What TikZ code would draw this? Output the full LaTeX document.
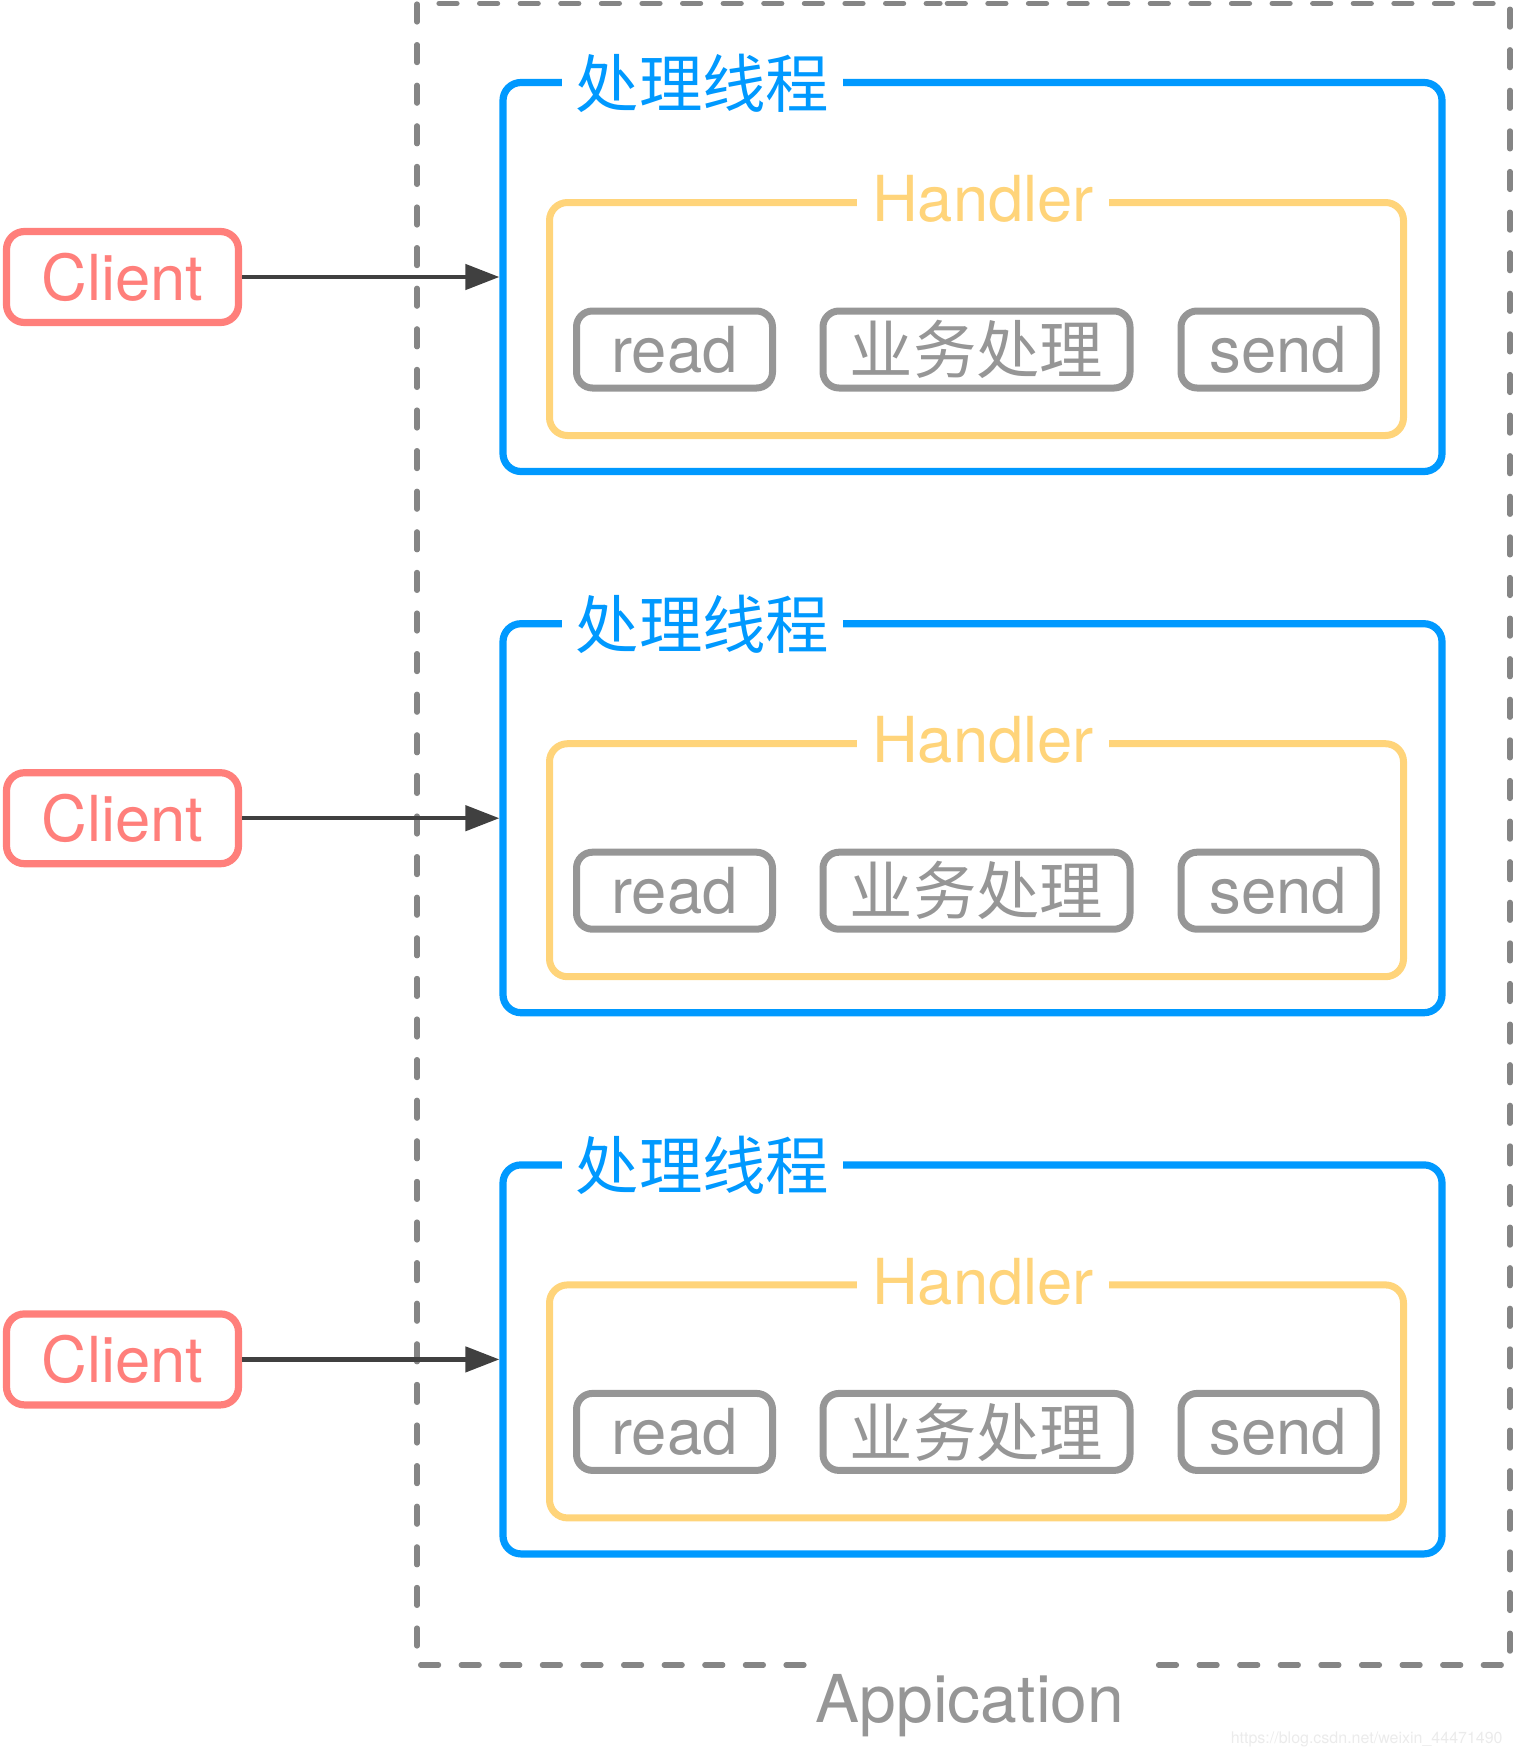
\documentclass[tikz,border=0pt]{standalone}
\usepackage{fontspec}
\setmainfont{TeX Gyre Heros}
\newfontfamily\cjk{Noto Sans CJK SC}
\usepackage{tikz}
\usetikzlibrary{arrows.meta,positioning,calc}
\definecolor{threadblue}{HTML}{0099FF}
\definecolor{handleryellow}{HTML}{FFD47A}
\definecolor{clientred}{HTML}{FF7F7B}
\definecolor{stepgray}{HTML}{969696}
\definecolor{appgray}{HTML}{858585}
\definecolor{linkgray}{HTML}{404040}
\definecolor{markgray}{HTML}{EBEBEB}
\newcommand\bigfont{\fontsize{31.7pt}{38pt}\selectfont}
\tikzset{
client/.style = {draw=clientred, text=clientred, line width=3.6pt, rounded corners=9pt, minimum width=116pt, minimum height=45.5pt, inner ysep=2pt, font=\bigfont},
thread/.style = {draw=threadblue, line width=3.6pt, rounded corners=9pt, minimum width=469.5pt, minimum height=194.5pt},
handler/.style = {draw=handleryellow, line width=3.5pt, rounded corners=9pt, minimum width=427pt, minimum height=116.5pt},
stepbox/.style = {draw=stepgray, text=stepgray, line width=3.5pt, rounded corners=8pt, minimum height=38.5pt, inner ysep=2pt, font=\bigfont},
threadtitle/.style = {fill=white, text=threadblue, inner xsep=7pt, inner ysep=2pt, font=\bigfont\cjk},
handlertitle/.style = {fill=white, text=handleryellow, inner xsep=7.5pt, inner ysep=2pt, font=\bigfont},
appframe/.style = {draw=appgray, line width=2.6pt, line cap=round, dash pattern=on 9pt off 11.3pt},
apptitle/.style = {text=stepgray, font=\fontsize{33pt}{40pt}\selectfont},
link/.style = {draw=linkgray, line width=2.25pt},
watermark/.style = {text=markgray, inner sep=0pt, font=\fontsize{8pt}{9pt}\selectfont}
}

\begin{document}
\begin{tikzpicture}[auto, node distance=270.6pt, >={Triangle[length=17pt,width=12.5pt]}]

                \useasboundingbox (0,0) rectangle (756.5pt,-878.5pt);
                \coordinate (appL) at (402pt,-832.5pt);
                \coordinate (appR) at (579.25pt,-832.5pt);
                \coordinate (apptop) at (470pt,-1.7pt);
                \draw [appframe] (appL) -| (208.5pt,-1.7pt) -- (apptop);
                \draw [appframe] (appR) -| (755pt,-1.7pt) -- (apptop);
                \node [apptitle, anchor=base] (applabel) at (485pt,-861pt) {Appication};

                \node [client] (client1) at (61.25pt,-138.5pt) {Client};
                \node [client, below of=client1] (client2) {Client};
                \node [client, below of=client2] (client3) {Client};

                \node [thread, right of=client1, node distance=425pt] (thread1) {};
                \node [thread, right of=client2, node distance=425pt] (thread2) {};
                \node [thread, right of=client3, node distance=425pt] (thread3) {};
                \node [threadtitle] (tname1) at ([xshift=-135pt,yshift=-2pt]thread1.north) {处理线程};
                \node [threadtitle] (tname2) at ([xshift=-135pt,yshift=-2pt]thread2.north) {处理线程};
                \node [threadtitle] (tname3) at ([xshift=-135pt,yshift=-2pt]thread3.north) {处理线程};

                \node [handler, below of=thread1, node distance=21pt, xshift=2pt] (handler1) {};
                \node [handler, below of=thread2, node distance=21pt, xshift=2pt] (handler2) {};
                \node [handler, below of=thread3, node distance=21pt, xshift=2pt] (handler3) {};
                \node [handlertitle] (hname1) at ([xshift=3.25pt]handler1.north) {Handler};
                \node [handlertitle] (hname2) at ([xshift=3.25pt]handler2.north) {Handler};
                \node [handlertitle] (hname3) at ([xshift=3.25pt]handler3.north) {Handler};

                \node [stepbox, below of=handler1, node distance=15.25pt, minimum width=153.5pt, font=\bigfont\cjk] (work1) {业务处理};
                \node [stepbox, left of=work1, node distance=151pt, minimum width=98pt] (read1) {read};
                \node [stepbox, right of=work1, node distance=151pt, minimum width=97.5pt] (send1) {send};
                \node [stepbox, below of=handler2, node distance=15.25pt, minimum width=153.5pt, font=\bigfont\cjk] (work2) {业务处理};
                \node [stepbox, left of=work2, node distance=151pt, minimum width=98pt] (read2) {read};
                \node [stepbox, right of=work2, node distance=151pt, minimum width=97.5pt] (send2) {send};
                \node [stepbox, below of=handler3, node distance=15.25pt, minimum width=153.5pt, font=\bigfont\cjk] (work3) {业务处理};
                \node [stepbox, left of=work3, node distance=151pt, minimum width=98pt] (read3) {read};
                \node [stepbox, right of=work3, node distance=151pt, minimum width=97.5pt] (send3) {send};

                \draw [link,->] (client1) -- (thread1);
                \draw [link,->] (client2) -- (thread2);
                \draw [link,->] (client3) -- (thread3);

                \node [watermark, anchor=base east] (mark) at (751.5pt,-871.5pt) {https://blog.csdn.net/weixin\_44471490};
            \end{tikzpicture}
\end{document}
